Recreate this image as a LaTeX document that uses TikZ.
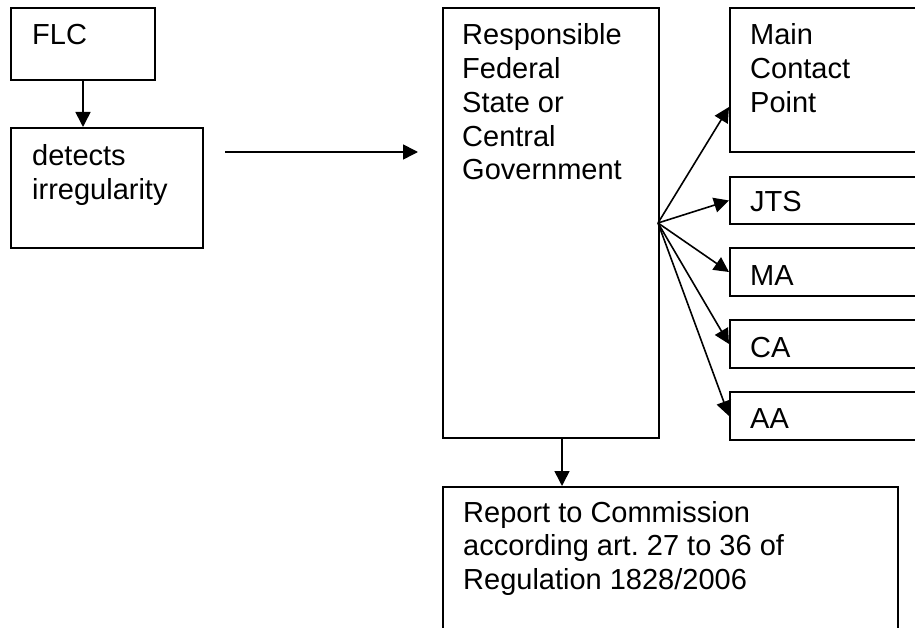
\documentclass[tikz,border=0pt]{standalone}
\usepackage{fontspec}
\setmainfont{Liberation Sans}
\usetikzlibrary{arrows.meta}
\frenchspacing
% a left-aligned block of lines whose reference point is the first baseline
\newcommand{\lines}[1]{\begin{tabular}[t]{@{}l@{}}#1\end{tabular}}
\begin{document}
\begin{tikzpicture}[x=1pt,y=-1pt,
  box/.style={draw,line width=2pt,rectangle,anchor=north west,inner sep=0pt},
  txt/.style={anchor=base west,inner sep=0pt,font=\fontsize{29}{33.7}\selectfont},
  link/.style={line width=1.6pt,-{Triangle[length=15pt,width=15pt]}}]
\useasboundingbox (0,0) rectangle (915,628);
\clip (0,0) rectangle (915,628);
\fill[white] (0,0) rectangle (915,628);

% left column
\node[box,minimum width=144pt,minimum height=72pt] (flc) at (10,7) {};
\node[txt] (flct) at (32,45) {FLC};
\node[box,minimum width=192pt,minimum height=120pt] (det) at (10,127) {};
\node[txt] (dett) at (32,166) {\lines{detects\\irregularity}};

% central authority
\node[box,minimum width=216pt,minimum height=430pt] (resp) at (442,7) {};
\node[txt] (respt) at (462,45) {\lines{Responsible\\Federal\\State or\\Central\\Government}};

% bodies informed (run off the right edge)
\node[box,minimum width=220pt,minimum height=144pt] (mcp) at (729,7) {};
\node[txt] (mcpt) at (750,45) {\lines{Main\\Contact\\Point}};
\node[box,minimum width=220pt,minimum height=47pt] (jts) at (729,176) {};
\node[txt] (jtst) at (750,212) {JTS};
\node[box,minimum width=220pt,minimum height=48pt] (ma) at (729,247) {};
\node[txt] (mat) at (750,285) {MA};
\node[box,minimum width=220pt,minimum height=48pt] (ca) at (729,319) {};
\node[txt] (cat) at (750,357) {CA};
\node[box,minimum width=220pt,minimum height=48pt] (aa) at (729,391) {};
\node[txt] (aat) at (750,428) {AA};

% report
\node[box,minimum width=455pt,minimum height=200pt] (rep) at (442,486) {};
\node[txt] (rept) at (463,522) {\lines{Report to Commission\\according art. 27 to 36 of\\Regulation 1828/2006}};

% connectors
\coordinate (hs) at (225,152);
\coordinate (he) at (418,152);
\coordinate (fan) at (658,223);
\coordinate (mcpin) at (729,107);
\coordinate (rs) at (562,437);

\draw[link] (flc.south) -- (flc.south |- det.north);
\draw[link] (hs) -- (he);
\draw[link] (fan) -- (mcpin);
\draw[link] (fan) -- (jts.west);
\draw[link] (fan) -- (ma.west);
\draw[link] (fan) -- (ca.west);
\draw[link] (fan) -- (aa.west);
\draw[link] (rs) -- (rs |- rep.north);
\end{tikzpicture}
\end{document}
